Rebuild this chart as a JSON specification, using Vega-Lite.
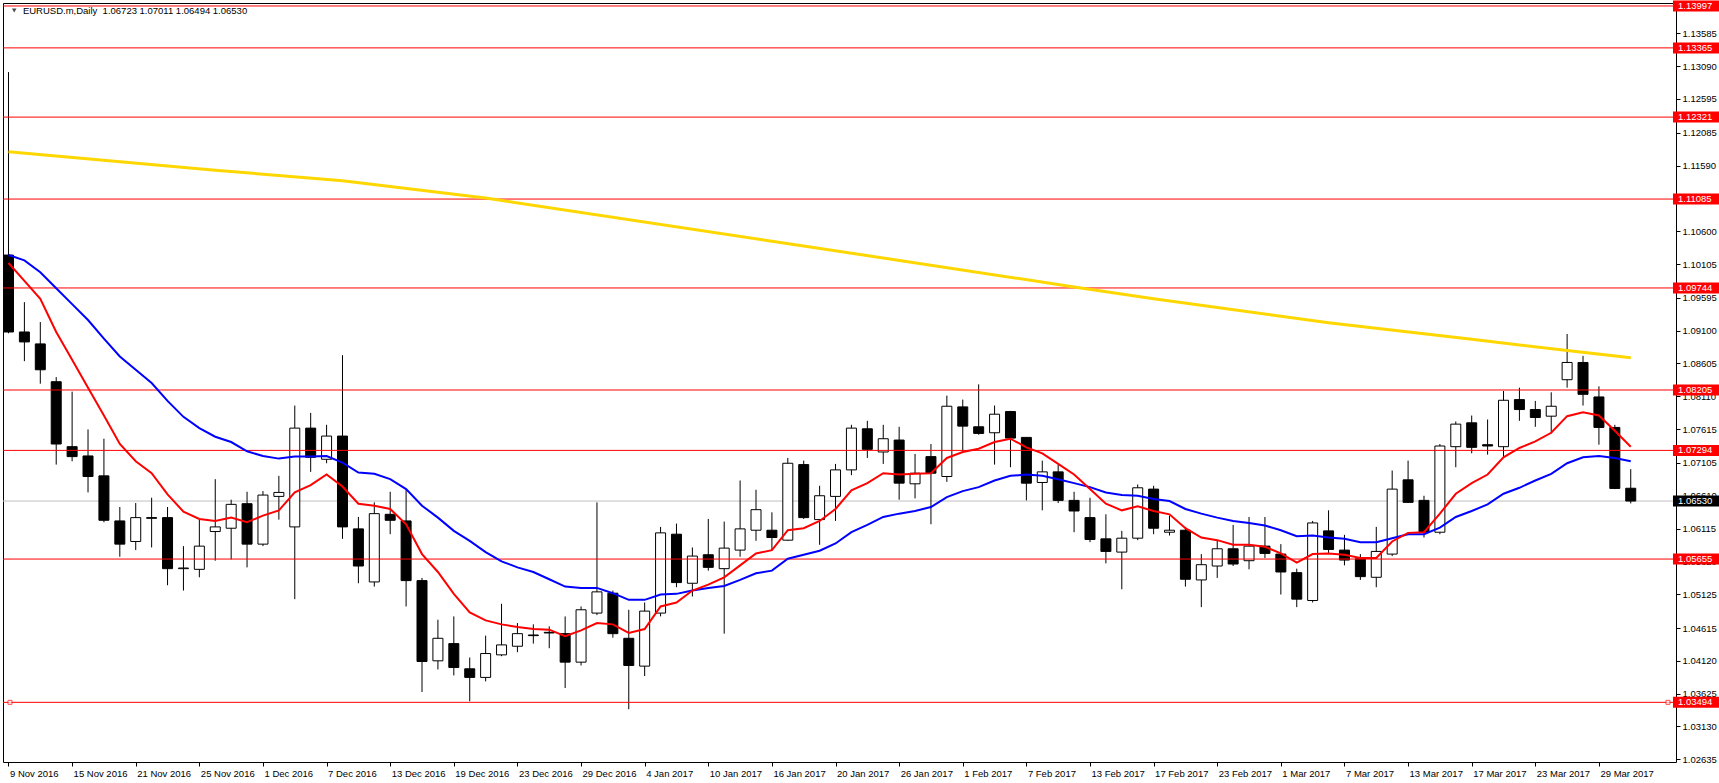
{
"$schema":"https://vega.github.io/schema/vega-lite/v6.json",
"width":1673,"height":759,
"autosize":{"type":"none"},
"padding":{"left":3,"top":3,"right":43,"bottom":21},
"background":"white",
"config":{"view":{"stroke":"black","strokeWidth":1},"font":"Liberation Sans"},
"datasets":{
"candles":[
{"i":0,"date":"2016-11-09","o":1.1024,"h":1.1300,"l":1.0906,"c":1.0908},
{"i":1,"date":"2016-11-10","o":1.0908,"h":1.0953,"l":1.0864,"c":1.0893},
{"i":2,"date":"2016-11-11","o":1.0890,"h":1.0923,"l":1.0830,"c":1.0851},
{"i":3,"date":"2016-11-14","o":1.0833,"h":1.0840,"l":1.0708,"c":1.0739},
{"i":4,"date":"2016-11-15","o":1.0735,"h":1.0818,"l":1.0713,"c":1.0720},
{"i":5,"date":"2016-11-16","o":1.0721,"h":1.0761,"l":1.0666,"c":1.0690},
{"i":6,"date":"2016-11-17","o":1.0691,"h":1.0747,"l":1.0621,"c":1.0624},
{"i":7,"date":"2016-11-18","o":1.0623,"h":1.0644,"l":1.0569,"c":1.0588},
{"i":8,"date":"2016-11-21","o":1.0592,"h":1.0650,"l":1.0579,"c":1.0628},
{"i":9,"date":"2016-11-22","o":1.0628,"h":1.0658,"l":1.0583,"c":1.0627},
{"i":10,"date":"2016-11-23","o":1.0628,"h":1.0644,"l":1.0526,"c":1.0551},
{"i":11,"date":"2016-11-24","o":1.0551,"h":1.0585,"l":1.0518,"c":1.0552},
{"i":12,"date":"2016-11-25","o":1.0550,"h":1.0625,"l":1.0538,"c":1.0585},
{"i":13,"date":"2016-11-28","o":1.0607,"h":1.0686,"l":1.0563,"c":1.0614},
{"i":14,"date":"2016-11-29","o":1.0612,"h":1.0655,"l":1.0565,"c":1.0648},
{"i":15,"date":"2016-11-30","o":1.0649,"h":1.0667,"l":1.0553,"c":1.0588},
{"i":16,"date":"2016-12-01","o":1.0588,"h":1.0668,"l":1.0585,"c":1.0662},
{"i":17,"date":"2016-12-02","o":1.0660,"h":1.0691,"l":1.0625,"c":1.0666},
{"i":18,"date":"2016-12-05","o":1.0614,"h":1.0797,"l":1.0505,"c":1.0763},
{"i":19,"date":"2016-12-06","o":1.0763,"h":1.0786,"l":1.0697,"c":1.0719},
{"i":20,"date":"2016-12-07","o":1.0716,"h":1.0768,"l":1.0710,"c":1.0751},
{"i":21,"date":"2016-12-08","o":1.0751,"h":1.0873,"l":1.0596,"c":1.0614},
{"i":22,"date":"2016-12-09","o":1.0611,"h":1.0629,"l":1.0529,"c":1.0555},
{"i":23,"date":"2016-12-12","o":1.0531,"h":1.0651,"l":1.0524,"c":1.0634},
{"i":24,"date":"2016-12-13","o":1.0633,"h":1.0667,"l":1.0603,"c":1.0624},
{"i":25,"date":"2016-12-14","o":1.0623,"h":1.0671,"l":1.0494,"c":1.0533},
{"i":26,"date":"2016-12-15","o":1.0533,"h":1.0537,"l":1.0365,"c":1.0411},
{"i":27,"date":"2016-12-16","o":1.0412,"h":1.0474,"l":1.0399,"c":1.0446},
{"i":28,"date":"2016-12-19","o":1.0438,"h":1.0479,"l":1.0390,"c":1.0402},
{"i":29,"date":"2016-12-20","o":1.0400,"h":1.0417,"l":1.0351,"c":1.0387},
{"i":30,"date":"2016-12-21","o":1.0387,"h":1.0450,"l":1.0381,"c":1.0423},
{"i":31,"date":"2016-12-22","o":1.0421,"h":1.0498,"l":1.0419,"c":1.0436},
{"i":32,"date":"2016-12-23","o":1.0434,"h":1.0469,"l":1.0425,"c":1.0453},
{"i":33,"date":"2016-12-26","o":1.0451,"h":1.0467,"l":1.0438,"c":1.0450},
{"i":34,"date":"2016-12-27","o":1.0455,"h":1.0464,"l":1.0431,"c":1.0454},
{"i":35,"date":"2016-12-28","o":1.0453,"h":1.0479,"l":1.0371,"c":1.0410},
{"i":36,"date":"2016-12-29","o":1.0410,"h":1.0494,"l":1.0405,"c":1.0489},
{"i":37,"date":"2016-12-30","o":1.0484,"h":1.0651,"l":1.0481,"c":1.0516},
{"i":38,"date":"2017-01-02","o":1.0514,"h":1.0518,"l":1.0447,"c":1.0453},
{"i":39,"date":"2017-01-03","o":1.0446,"h":1.0489,"l":1.0339,"c":1.0405},
{"i":40,"date":"2017-01-04","o":1.0404,"h":1.0500,"l":1.0389,"c":1.0487},
{"i":41,"date":"2017-01-05","o":1.0484,"h":1.0614,"l":1.0479,"c":1.0605},
{"i":42,"date":"2017-01-06","o":1.0603,"h":1.0619,"l":1.0523,"c":1.0530},
{"i":43,"date":"2017-01-09","o":1.0529,"h":1.0583,"l":1.0509,"c":1.0570},
{"i":44,"date":"2017-01-10","o":1.0572,"h":1.0626,"l":1.0548,"c":1.0553},
{"i":45,"date":"2017-01-11","o":1.0551,"h":1.0622,"l":1.0453,"c":1.0582},
{"i":46,"date":"2017-01-12","o":1.0579,"h":1.0684,"l":1.0569,"c":1.0611},
{"i":47,"date":"2017-01-13","o":1.0609,"h":1.0670,"l":1.0593,"c":1.0640},
{"i":48,"date":"2017-01-16","o":1.0609,"h":1.0636,"l":1.0579,"c":1.0598},
{"i":49,"date":"2017-01-17","o":1.0594,"h":1.0718,"l":1.0593,"c":1.0710},
{"i":50,"date":"2017-01-18","o":1.0708,"h":1.0714,"l":1.0626,"c":1.0628},
{"i":51,"date":"2017-01-19","o":1.0625,"h":1.0676,"l":1.0587,"c":1.0661},
{"i":52,"date":"2017-01-20","o":1.0660,"h":1.0709,"l":1.0623,"c":1.0700},
{"i":53,"date":"2017-01-23","o":1.0700,"h":1.0768,"l":1.0692,"c":1.0763},
{"i":54,"date":"2017-01-24","o":1.0762,"h":1.0774,"l":1.0718,"c":1.0731},
{"i":55,"date":"2017-01-25","o":1.0727,"h":1.0768,"l":1.0709,"c":1.0747},
{"i":56,"date":"2017-01-26","o":1.0745,"h":1.0765,"l":1.0655,"c":1.0680},
{"i":57,"date":"2017-01-27","o":1.0679,"h":1.0724,"l":1.0657,"c":1.0695},
{"i":58,"date":"2017-01-30","o":1.0720,"h":1.0739,"l":1.0618,"c":1.0695},
{"i":59,"date":"2017-01-31","o":1.0690,"h":1.0812,"l":1.0682,"c":1.0796},
{"i":60,"date":"2017-02-01","o":1.0795,"h":1.0806,"l":1.0727,"c":1.0766},
{"i":61,"date":"2017-02-02","o":1.0765,"h":1.0829,"l":1.0753,"c":1.0755},
{"i":62,"date":"2017-02-03","o":1.0756,"h":1.0797,"l":1.0708,"c":1.0784},
{"i":63,"date":"2017-02-06","o":1.0788,"h":1.0789,"l":1.0704,"c":1.0748},
{"i":64,"date":"2017-02-07","o":1.0749,"h":1.0749,"l":1.0654,"c":1.0680},
{"i":65,"date":"2017-02-08","o":1.0681,"h":1.0714,"l":1.0639,"c":1.0697},
{"i":66,"date":"2017-02-09","o":1.0697,"h":1.0708,"l":1.0650,"c":1.0654},
{"i":67,"date":"2017-02-10","o":1.0654,"h":1.0667,"l":1.0606,"c":1.0638},
{"i":68,"date":"2017-02-13","o":1.0628,"h":1.0658,"l":1.0591,"c":1.0595},
{"i":69,"date":"2017-02-14","o":1.0596,"h":1.0633,"l":1.0559,"c":1.0577},
{"i":70,"date":"2017-02-15","o":1.0576,"h":1.0608,"l":1.0520,"c":1.0597},
{"i":71,"date":"2017-02-16","o":1.0597,"h":1.0678,"l":1.0594,"c":1.0673},
{"i":72,"date":"2017-02-17","o":1.0671,"h":1.0676,"l":1.0603,"c":1.0612},
{"i":73,"date":"2017-02-20","o":1.0606,"h":1.0631,"l":1.0601,"c":1.0609},
{"i":74,"date":"2017-02-21","o":1.0609,"h":1.0614,"l":1.0524,"c":1.0535},
{"i":75,"date":"2017-02-22","o":1.0534,"h":1.0573,"l":1.0493,"c":1.0557},
{"i":76,"date":"2017-02-23","o":1.0555,"h":1.0594,"l":1.0537,"c":1.0581},
{"i":77,"date":"2017-02-24","o":1.0581,"h":1.0617,"l":1.0555,"c":1.0558},
{"i":78,"date":"2017-02-27","o":1.0563,"h":1.0629,"l":1.0550,"c":1.0585},
{"i":79,"date":"2017-02-28","o":1.0585,"h":1.0629,"l":1.0567,"c":1.0574},
{"i":80,"date":"2017-03-01","o":1.0573,"h":1.0588,"l":1.0512,"c":1.0546},
{"i":81,"date":"2017-03-02","o":1.0545,"h":1.0551,"l":1.0493,"c":1.0505},
{"i":82,"date":"2017-03-03","o":1.0503,"h":1.0623,"l":1.0500,"c":1.0620},
{"i":83,"date":"2017-03-06","o":1.0608,"h":1.0639,"l":1.0573,"c":1.0580},
{"i":84,"date":"2017-03-07","o":1.0579,"h":1.0602,"l":1.0556,"c":1.0564},
{"i":85,"date":"2017-03-08","o":1.0566,"h":1.0573,"l":1.0534,"c":1.0539},
{"i":86,"date":"2017-03-09","o":1.0538,"h":1.0614,"l":1.0523,"c":1.0577},
{"i":87,"date":"2017-03-10","o":1.0573,"h":1.0699,"l":1.0570,"c":1.0671},
{"i":88,"date":"2017-03-13","o":1.0685,"h":1.0714,"l":1.0650,"c":1.0651},
{"i":89,"date":"2017-03-14","o":1.0654,"h":1.0661,"l":1.0598,"c":1.0606},
{"i":90,"date":"2017-03-15","o":1.0606,"h":1.0739,"l":1.0603,"c":1.0736},
{"i":91,"date":"2017-03-16","o":1.0735,"h":1.0773,"l":1.0704,"c":1.0769},
{"i":92,"date":"2017-03-17","o":1.0771,"h":1.0782,"l":1.0725,"c":1.0734},
{"i":93,"date":"2017-03-20","o":1.0738,"h":1.0776,"l":1.0723,"c":1.0736},
{"i":94,"date":"2017-03-21","o":1.0735,"h":1.0819,"l":1.0719,"c":1.0805},
{"i":95,"date":"2017-03-22","o":1.0806,"h":1.0824,"l":1.0774,"c":1.0791},
{"i":96,"date":"2017-03-23","o":1.0791,"h":1.0804,"l":1.0765,"c":1.0779},
{"i":97,"date":"2017-03-24","o":1.0781,"h":1.0817,"l":1.0755,"c":1.0796},
{"i":98,"date":"2017-03-27","o":1.0836,"h":1.0905,"l":1.0824,"c":1.0862},
{"i":99,"date":"2017-03-28","o":1.0862,"h":1.0872,"l":1.0797,"c":1.0814},
{"i":100,"date":"2017-03-29","o":1.0810,"h":1.0826,"l":1.0738,"c":1.0764},
{"i":101,"date":"2017-03-30","o":1.0764,"h":1.0768,"l":1.0671,"c":1.0672},
{"i":102,"date":"2017-03-31","o":1.06723,"h":1.07011,"l":1.06494,"c":1.06530}
],
"ma":[
{"i":0,"red":1.1012,"blue":1.1024},{"i":1,"red":1.0985,"blue":1.1016},{"i":2,"red":1.0958,"blue":1.0998},{"i":3,"red":1.0908,"blue":1.0974},
{"i":4,"red":1.0866,"blue":1.0950},{"i":5,"red":1.0824,"blue":1.0926},{"i":6,"red":1.0782,"blue":1.0898},{"i":7,"red":1.0739,"blue":1.0871},
{"i":8,"red":1.0713,"blue":1.0851},{"i":9,"red":1.0695,"blue":1.0831},{"i":10,"red":1.0663,"blue":1.0804},{"i":11,"red":1.0637,"blue":1.0780},
{"i":12,"red":1.0626,"blue":1.0763},{"i":13,"red":1.0623,"blue":1.0750},{"i":14,"red":1.0628,"blue":1.0742},{"i":15,"red":1.0621,"blue":1.0728},
{"i":16,"red":1.0631,"blue":1.0721},{"i":17,"red":1.0639,"blue":1.0717},{"i":18,"red":1.0666,"blue":1.0720},{"i":19,"red":1.0677,"blue":1.0720},
{"i":20,"red":1.0693,"blue":1.0721},{"i":21,"red":1.0675,"blue":1.0711},{"i":22,"red":1.0649,"blue":1.0696},{"i":23,"red":1.0646,"blue":1.0694},
{"i":24,"red":1.0641,"blue":1.0686},{"i":25,"red":1.0618,"blue":1.0671},{"i":26,"red":1.0573,"blue":1.0646},{"i":27,"red":1.0546,"blue":1.0628},
{"i":28,"red":1.0513,"blue":1.0608},{"i":29,"red":1.0485,"blue":1.0593},{"i":30,"red":1.0473,"blue":1.0576},{"i":31,"red":1.0467,"blue":1.0562},
{"i":32,"red":1.0463,"blue":1.0553},{"i":33,"red":1.0460,"blue":1.0546},{"i":34,"red":1.0459,"blue":1.0535},{"i":35,"red":1.0449,"blue":1.0524},
{"i":36,"red":1.0458,"blue":1.0522},{"i":37,"red":1.0469,"blue":1.0522},{"i":38,"red":1.0467,"blue":1.0514},{"i":39,"red":1.0454,"blue":1.0504},
{"i":40,"red":1.0460,"blue":1.0504},{"i":41,"red":1.0494,"blue":1.0512},{"i":42,"red":1.0500,"blue":1.0513},{"i":43,"red":1.0518,"blue":1.0518},
{"i":44,"red":1.0527,"blue":1.0522},{"i":45,"red":1.0538,"blue":1.0525},{"i":46,"red":1.0556,"blue":1.0534},{"i":47,"red":1.0574,"blue":1.0544},
{"i":48,"red":1.0579,"blue":1.0548},{"i":49,"red":1.0609,"blue":1.0566},{"i":50,"red":1.0612,"blue":1.0572},{"i":51,"red":1.0623,"blue":1.0578},
{"i":52,"red":1.0641,"blue":1.0589},{"i":53,"red":1.0669,"blue":1.0606},{"i":54,"red":1.0680,"blue":1.0617},{"i":55,"red":1.0695,"blue":1.0629},
{"i":56,"red":1.0693,"blue":1.0634},{"i":57,"red":1.0694,"blue":1.0638},{"i":58,"red":1.0695,"blue":1.0644},{"i":59,"red":1.0718,"blue":1.0659},
{"i":60,"red":1.0727,"blue":1.0668},{"i":61,"red":1.0732,"blue":1.0674},{"i":62,"red":1.0742,"blue":1.0684},{"i":63,"red":1.0747,"blue":1.0691},
{"i":64,"red":1.0734,"blue":1.0693},{"i":65,"red":1.0725,"blue":1.0691},{"i":66,"red":1.0709,"blue":1.0686},{"i":67,"red":1.0693,"blue":1.0680},
{"i":68,"red":1.0671,"blue":1.0674},{"i":69,"red":1.0649,"blue":1.0666},{"i":70,"red":1.0639,"blue":1.0662},{"i":71,"red":1.0645,"blue":1.0661},
{"i":72,"red":1.0638,"blue":1.0656},{"i":73,"red":1.0633,"blue":1.0653},{"i":74,"red":1.0612,"blue":1.0641},{"i":75,"red":1.0598,"blue":1.0634},
{"i":76,"red":1.0594,"blue":1.0628},{"i":77,"red":1.0587,"blue":1.0623},{"i":78,"red":1.0587,"blue":1.0620},{"i":79,"red":1.0584,"blue":1.0616},
{"i":80,"red":1.0574,"blue":1.0609},{"i":81,"red":1.0560,"blue":1.0600},{"i":82,"red":1.0573,"blue":1.0601},{"i":83,"red":1.0574,"blue":1.0598},
{"i":84,"red":1.0572,"blue":1.0596},{"i":85,"red":1.0567,"blue":1.0591},{"i":86,"red":1.0567,"blue":1.0591},{"i":87,"red":1.0592,"blue":1.0597},
{"i":88,"red":1.0605,"blue":1.0603},{"i":89,"red":1.0606,"blue":1.0603},{"i":90,"red":1.0634,"blue":1.0613},{"i":91,"red":1.0664,"blue":1.0629},
{"i":92,"red":1.0680,"blue":1.0638},{"i":93,"red":1.0693,"blue":1.0648},{"i":94,"red":1.0719,"blue":1.0664},{"i":95,"red":1.0733,"blue":1.0673},
{"i":96,"red":1.0743,"blue":1.0684},{"i":97,"red":1.0756,"blue":1.0694},{"i":98,"red":1.0781,"blue":1.0710},{"i":99,"red":1.0787,"blue":1.0719},
{"i":100,"red":1.0782,"blue":1.0721},{"i":101,"red":1.0759,"blue":1.0718},{"i":102,"red":1.0735,"blue":1.0713}
],
"yellow":[
{"i":0,"v":1.1180},{"i":13,"v":1.1152},{"i":21,"v":1.1136},{"i":30,"v":1.1110},{"i":48,"v":1.1045},{"i":67,"v":1.0976},{"i":72,"v":1.0958},{"i":83,"v":1.0922},{"i":92,"v":1.0897},{"i":98,"v":1.0880},{"i":102,"v":1.0869}
],
"levels":[{"p":1.13997},{"p":1.13365},{"p":1.12321},{"p":1.11085},{"p":1.09744},{"p":1.08205},{"p":1.07294},{"p":1.05655},{"p":1.03494}],
"last":[{"p":1.06530}],
"header":[{"t":"EURUSD.m,Daily\u00a0 1.06723 1.07011 1.06494 1.06530"}]
},
"encoding":{
 "x":{"type":"quantitative","scale":{"domain":[-0.03125,104.53125],"nice":false,"zero":false},"title":null,
   "axis":{"orient":"bottom","title":null,"values":[0,4,8,12,16,20,24,28,32,36,40,44,48,52,56,60,64,68,72,76,80,84,88,92,96,100],
    "labelExpr":"['9 Nov 2016','15 Nov 2016','21 Nov 2016','25 Nov 2016','1 Dec 2016','7 Dec 2016','13 Dec 2016','19 Dec 2016','23 Dec 2016','29 Dec 2016','4 Jan 2017','10 Jan 2017','16 Jan 2017','20 Jan 2017','26 Jan 2017','1 Feb 2017','7 Feb 2017','13 Feb 2017','17 Feb 2017','23 Feb 2017','1 Mar 2017','7 Mar 2017','13 Mar 2017','17 Mar 2017','23 Mar 2017','29 Mar 2017'][round(datum.value/4)]",
    "labelAlign":"left","labelBaseline":"top","labelPadding":2,"labelOffset":1,"tickSize":4,"tickColor":"black","domain":false,"grid":false,
    "labelFont":"Liberation Sans","labelFontSize":9.5,"labelColor":"black","labelOverlap":false,"labelFlush":false,"labelBound":false}},
 "y":{"type":"quantitative","scale":{"domain":[1.02594,1.14042],"nice":false,"zero":false},"title":null,
   "axis":{"orient":"right","title":null,"values":[1.13585,1.1309,1.12595,1.12085,1.1159,1.106,1.10105,1.09595,1.091,1.08605,1.0811,1.07615,1.07105,1.0661,1.06115,1.0562,1.05125,1.04615,1.0412,1.03625,1.0313,1.02635],
    "format":".5f","labelPadding":2,"tickSize":4,"tickColor":"black","domain":false,"grid":false,"labelFont":"Liberation Sans","labelFontSize":9.5,"labelColor":"black","labelOverlap":false,"labelFlush":false,"labelBound":false,"labelBaseline":"middle"}}
},
"layer":[
{"data":{"name":"last"},"mark":{"type":"rule","color":"#C0C0C0","strokeWidth":1},
 "encoding":{"y":{"field":"p"}}},
{"data":{"name":"candles"},"mark":{"type":"rule","color":"black","strokeWidth":1,"clip":true},
 "encoding":{"x":{"field":"i"},"y":{"field":"l"},"y2":{"field":"h"}}},
{"data":{"name":"candles"},"mark":{"type":"bar","size":10,"stroke":"black","strokeWidth":1,"clip":true},
 "encoding":{"x":{"field":"i"},"y":{"field":"o"},"y2":{"field":"c"},
  "fill":{"condition":{"test":"datum.c >= datum.o","value":"white"},"value":"black"}}},
{"data":{"name":"levels"},"mark":{"type":"rule","color":"#FF0000","strokeWidth":1},
 "encoding":{"y":{"field":"p"}}},
{"data":{"name":"yellow"},"mark":{"type":"line","color":"#FFD700","strokeWidth":3,"clip":true},
 "encoding":{"x":{"field":"i"},"y":{"field":"v"}}},
{"data":{"name":"ma"},"mark":{"type":"line","color":"#0000FF","strokeWidth":2,"clip":true},
 "encoding":{"x":{"field":"i"},"y":{"field":"blue"}}},
{"data":{"name":"ma"},"mark":{"type":"line","color":"#FF0000","strokeWidth":2,"clip":true},
 "encoding":{"x":{"field":"i"},"y":{"field":"red"}}},
{"data":{"name":"levels"},"mark":{"type":"rect","color":"#FF0000","yOffset":-5.5,"y2Offset":5.5,"clip":false},
 "encoding":{"x":{"datum":104.656},"x2":{"datum":108},"y":{"field":"p"},"y2":{"field":"p"}}},
{"data":{"name":"levels"},"mark":{"type":"text","color":"white","align":"left","baseline":"middle","font":"Liberation Sans","fontSize":9.5,"clip":false},
 "encoding":{"x":{"datum":104.97},"y":{"field":"p"},"text":{"field":"p","type":"quantitative","format":".5f"}}},
{"data":{"name":"last"},"mark":{"type":"rect","color":"black","yOffset":-5.5,"y2Offset":5.5,"clip":false},
 "encoding":{"x":{"datum":104.656},"x2":{"datum":108},"y":{"field":"p"},"y2":{"field":"p"}}},
{"data":{"name":"last"},"mark":{"type":"text","color":"white","align":"left","baseline":"middle","font":"Liberation Sans","fontSize":9.5,"clip":false},
 "encoding":{"x":{"datum":104.97},"y":{"field":"p"},"text":{"field":"p","type":"quantitative","format":".5f"}}},
{"data":{"name":"header"},"mark":{"type":"text","color":"black","align":"left","baseline":"middle","font":"Liberation Sans","fontSize":9.5},
 "encoding":{"x":{"datum":0.906},"y":{"datum":1.1392},"text":{"field":"t"}}},
{"data":{"name":"header"},"mark":{"type":"point","shape":"triangle-down","filled":true,"color":"black","size":22},
 "encoding":{"x":{"datum":0.36},"y":{"datum":1.1393}}},
{"data":{"name":"header"},"mark":{"type":"point","shape":"square","filled":true,"fill":"white","stroke":"#FF0000","strokeWidth":1,"size":16,"clip":false},
 "encoding":{"x":{"datum":0.094},"y":{"datum":1.03494}}},
{"data":{"name":"header"},"mark":{"type":"point","shape":"square","filled":true,"fill":"white","stroke":"#FF0000","strokeWidth":1,"size":16,"clip":false},
 "encoding":{"x":{"datum":104.34},"y":{"datum":1.03494}}}
]
}
